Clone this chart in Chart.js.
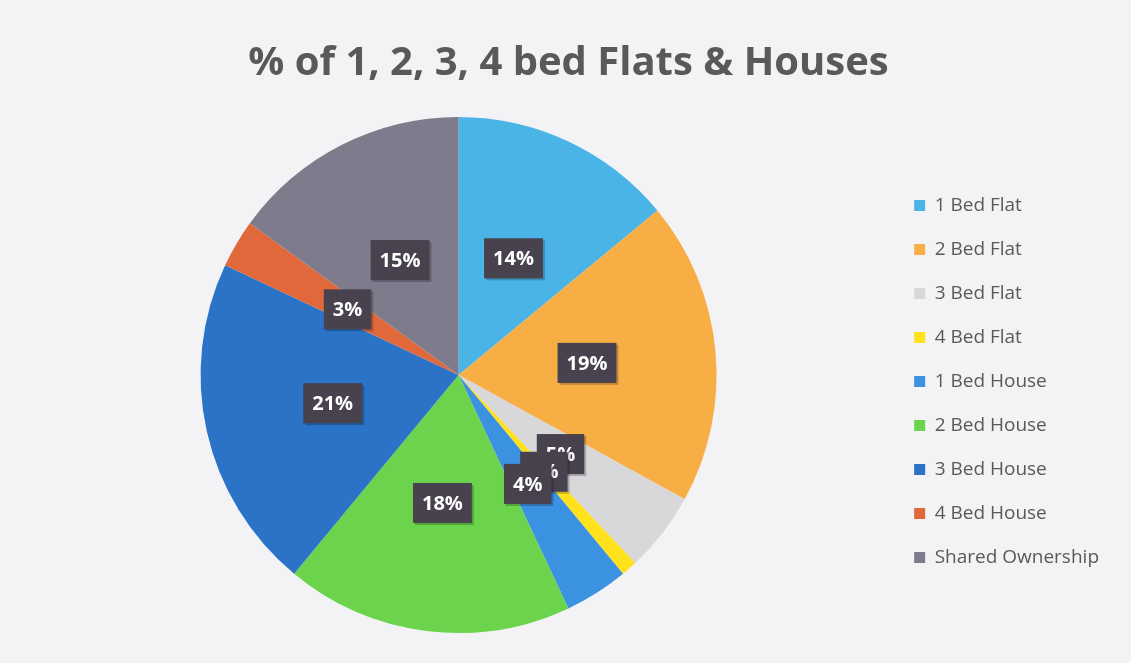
<!DOCTYPE html>
<html>
<head>
<meta charset="utf-8">
<script src="https://cdn.jsdelivr.net/npm/chart.js@4/dist/chart.umd.min.js"></script>
<style>
  html, body { margin: 0; padding: 0; background: #f3f3f5; }
  #wrap { width: 1131px; height: 663px; }
</style>
</head>
<body>
<div id="wrap"><canvas id="pieChart" width="1131" height="663"></canvas></div>
<script>
const categories = [
  "1 Bed Flat",
  "2 Bed Flat",
  "3 Bed Flat",
  "4 Bed Flat",
  "1 Bed House",
  "2 Bed House",
  "3 Bed House",
  "4 Bed House",
  "Shared Ownership",
];
const shares = [14, 19, 5, 1, 4, 18, 21, 3, 15];
const sliceColors = [
  "#4bb4e6",
  "#f7ae45",
  "#d8d8da",
  "#ffe11c",
  "#3a92e0",
  "#6cd34c",
  "#2a73c6",
  "#e0683a",
  "#7e7c8c",
];

// dark boxes with the percentage, drawn at each slice's centre point
const boxLabels = {
  id: "boxLabels",
  afterDatasetsDraw(chart) {
    const ctx = chart.ctx;
    const meta = chart.getDatasetMeta(0);
    const total = shares.reduce((a, b) => a + b, 0);
    ctx.save();
    ctx.font = "bold 20px 'Open Sans'";
    ctx.textAlign = "center";
    ctx.textBaseline = "middle";
    meta.data.forEach((arc, i) => {
      const p = arc.tooltipPosition();
      const text = Math.round((shares[i] / total) * 100) + "%";
      const w = ctx.measureText(text).width + 18;
      const h = 40;
      ctx.fillStyle = "rgba(0,0,0,0.22)";
      ctx.fillRect(p.x - w / 2 + 2, p.y - h / 2 + 2, w, h);
      ctx.fillStyle = "#48424e";
      ctx.fillRect(p.x - w / 2, p.y - h / 2, w, h);
      ctx.fillStyle = "#ffffff";
      ctx.fillText(text, p.x, p.y + 1);
    });
    ctx.restore();
  },
};

new Chart(document.getElementById("pieChart").getContext("2d"), {
  type: "pie",
  data: {
    labels: categories,
    datasets: [
      {
        data: shares,
        backgroundColor: sliceColors,
        borderWidth: 0,
      },
    ],
  },
  options: {
    responsive: false,
    animation: false,
    layout: { padding: { left: 28, right: 22, top: 0, bottom: 30 } },
    plugins: {
      tooltip: { enabled: false },
      title: {
        display: true,
        text: "% of 1, 2, 3, 4 bed Flats & Houses",
        color: "#595959",
        font: { family: "'Open Sans'", size: 40, weight: "bold" },
        padding: { top: 40, bottom: 29 },
      },
      legend: {
        position: "right",
        align: "center",
        title: {
          display: true,
          text: " ",
          font: { size: 10 },
          padding: { top: 0, bottom: 118 },
        },
        labels: {
          color: "#595959",
          font: { family: "'Open Sans'", size: 19 },
          boxWidth: 11,
          boxHeight: 11,
          padding: 25,
        },
      },
    },
  },
  plugins: [boxLabels],
});
</script>
</body>
</html>
